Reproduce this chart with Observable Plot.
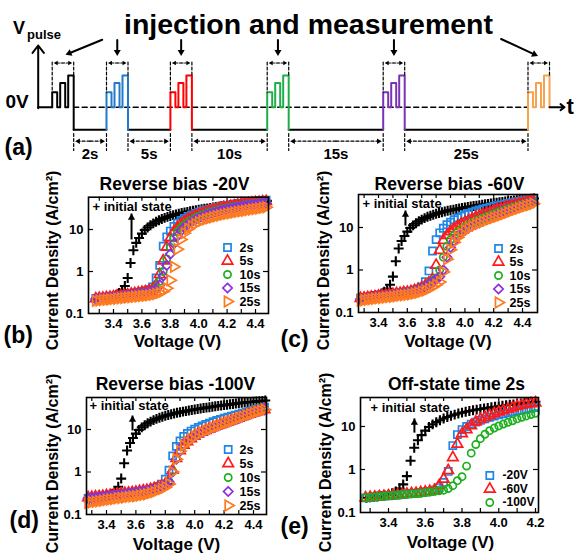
<!DOCTYPE html>
<html><head><meta charset="utf-8">
<script src="https://cdn.jsdelivr.net/npm/d3@7"></script>
<script src="https://cdn.jsdelivr.net/npm/@observablehq/plot@0.6"></script>
<style>
body{margin:0;background:#fff;}
#root{position:relative;width:579px;height:560px;overflow:hidden;background:#fff;}
#root svg{position:absolute;}
</style></head><body><div id="root"></div>
<script>
const SANS = "'Liberation Sans', Arial, Helvetica, sans-serif";
const BLUE = "#1e86e6", RED = "#ff1a1a", GREEN = "#1cb01c", PURPLE = "#8b2be2", ORANGE = "#ff7a1f";

// ---------- panel (a) schematic ----------
const offTimes = ["2s", "5s", "10s", "15s", "25s"];
const pulseColors = ["#000000", "#1f7acb", "#ff0000", "#1fae4a", "#7a33b4", "#f7a24e"];
const pulseGroupX = [51.7, 106, 169.9, 266.7, 382.7, 527.5];

// ---------- measured curves ----------
const voltageInit = [3.28,3.30,3.32,3.34,3.36,3.38,3.40,3.42,3.44,3.46,3.48,3.50,3.52,3.54,3.56,3.58,3.60,3.62,3.64,3.66,3.68,3.70,3.72,3.74,3.76,3.78,3.80,3.82,3.84,3.86,3.88,3.90,3.92,3.94,3.96,3.98,4.00,4.02,4.04,4.06,4.08,4.10,4.12,4.14,4.16,4.18,4.20,4.22,4.24,4.26,4.28,4.30,4.32,4.34,4.36,4.38,4.40,4.42,4.44,4.46,4.48];
const jInit = [0.22,0.225,0.23,0.235,0.24,0.25,0.26,0.28,0.31,0.36,
 0.45,0.70,1.6,3.2,4.8,6.3,8.0,9.7,11.2,12.6,
 14.0,15.3,16.6,17.8,18.9,20.0,21.0,22.0,22.9,23.8,
 24.7,25.5,26.3,27.1,27.9,28.7,29.5,30.3,31.1,31.9,
 32.7,33.5,34.3,35.1,35.9,36.7,37.5,38.3,39.1,39.9,
 40.7,41.5,42.3,43.0,43.7,44.4,45.1,45.8,46.5,47.2,48.0];

const voltage = [3.275,3.300,3.325,3.350,3.375,3.400,3.425,3.450,3.475,3.500,3.525,3.550,3.575,3.600,3.625,3.650,3.675,3.700,3.725,3.750,3.775,3.800,3.825,3.850,3.875,3.900,3.925,3.950,3.975,4.000,4.025,4.050,4.075,4.100,4.125,4.150,4.175,4.200,4.225,4.250,4.275,4.300,4.325,4.350,4.375,4.400,4.425,4.450,4.475];

// (b) reverse bias -20 V
const b2s = [0.23,0.235,0.24,0.245,0.25,0.26,0.265,0.27,0.28,0.29,
 0.30,0.31,0.32,0.33,0.35,0.37,0.43,0.70,1.4,4.0,
 6.7,9.2,11.8,14.2,16.4,18.5,20.5,22.4,24.2,26.0,
 27.6,29.2,30.7,32.1,33.5,34.8,36.1,37.4,38.6,39.8,
 41.0,42.2,43.3,44.4,45.5,46.6,47.7,48.8,49.9];
const b5s = [0.225,0.23,0.235,0.24,0.245,0.25,0.26,0.265,0.27,0.28,
 0.29,0.30,0.31,0.32,0.33,0.35,0.38,0.48,0.85,1.8,
 3.8,6.3,8.8,11.2,13.4,15.5,17.5,19.4,21.2,22.9,
 24.5,26.1,27.6,29.1,30.5,31.9,33.2,34.5,35.8,37.0,
 38.2,39.4,40.5,41.6,42.7,43.7,44.7,45.7,46.7];
const b10s = [0.22,0.225,0.23,0.235,0.24,0.245,0.25,0.26,0.265,0.27,
 0.28,0.29,0.30,0.31,0.32,0.33,0.35,0.41,0.58,1.0,
 2.0,3.8,6.3,8.8,11.0,13.0,15.0,16.9,18.7,20.4,
 22.0,23.6,25.1,26.6,28.0,29.4,30.8,32.1,33.4,34.7,
 35.9,37.1,38.3,39.4,40.5,41.6,42.7,43.8,44.9];
const b15s = [0.22,0.225,0.23,0.235,0.24,0.245,0.25,0.255,0.26,0.27,
 0.275,0.285,0.29,0.30,0.31,0.32,0.34,0.37,0.48,0.78,
 1.4,2.6,4.6,7.0,9.2,11.2,13.1,15.0,16.8,18.5,
 20.1,21.7,23.2,24.7,26.1,27.5,28.8,30.1,31.4,32.7,
 33.9,35.1,36.3,37.5,38.6,39.7,40.8,41.9,43.0];
const b25s = [0.20,0.205,0.21,0.213,0.216,0.22,0.225,0.23,0.235,0.24,
 0.245,0.25,0.255,0.26,0.265,0.27,0.28,0.29,0.31,0.34,
 0.40,0.62,1.3,3.4,5.8,8.2,10.3,12.1,13.6,15.0,
 16.3,17.5,18.6,19.6,20.6,21.6,22.6,23.6,24.5,25.4,
 26.3,27.2,28.1,29.0,29.9,30.8,31.8,32.8,34.0];

// (c) reverse bias -60 V
const c2s = [0.22,0.225,0.23,0.235,0.24,0.25,0.255,0.26,0.27,0.28,
 0.285,0.29,0.30,0.31,0.32,0.34,0.36,0.40,0.53,0.95,
 2.8,5.2,7.5,9.6,11.6,13.4,15.2,16.9,18.5,20.0,
 21.5,23.0,24.4,25.8,27.2,28.6,30.0,31.4,32.8,34.2,
 35.6,37.0,38.4,39.8,41.2,42.6,44.0,45.4,46.8];
const c5s = [0.215,0.22,0.225,0.23,0.235,0.245,0.25,0.255,0.265,0.27,
 0.28,0.285,0.295,0.30,0.31,0.33,0.35,0.38,0.43,0.5,
 0.6,1.3,2.9,5.0,6.5,8.0,9.4,10.7,12.0,13.3,
 14.6,15.9,17.3,18.7,20.1,21.6,23.1,24.7,26.3,27.9,
 29.5,31.1,32.7,34.3,35.9,37.5,39.1,40.7,42.3];
const c10s = [0.21,0.215,0.22,0.225,0.23,0.24,0.245,0.25,0.26,0.265,
 0.27,0.28,0.29,0.30,0.31,0.32,0.34,0.37,0.41,0.47,
 0.55,0.65,1.0,2.0,3.6,5.2,6.6,7.9,9.1,10.3,
 11.5,12.7,13.9,15.2,16.5,17.9,19.3,20.8,22.3,23.8,
 25.3,27.2,29.0,30.8,32.6,34.4,36.2,38.0,39.8];
const c15s = [0.205,0.21,0.215,0.22,0.225,0.235,0.24,0.245,0.25,0.26,
 0.265,0.27,0.28,0.29,0.30,0.31,0.33,0.36,0.40,0.45,
 0.52,0.6,0.7,1.0,2.0,3.4,4.8,6.1,7.3,8.5,
 9.6,10.7,11.8,12.9,14.1,15.4,16.7,18.1,19.5,21.0,
 22.5,24.3,26.0,27.8,29.7,31.7,33.7,35.8,37.9];
const c25s = [0.19,0.195,0.20,0.205,0.21,0.215,0.22,0.225,0.23,0.235,
 0.24,0.25,0.255,0.26,0.27,0.28,0.29,0.31,0.33,0.36,
 0.40,0.45,0.52,0.9,1.8,3.0,4.5,5.9,7.2,8.5,
 9.6,10.6,11.6,12.6,13.6,14.7,15.8,16.9,18.0,19.3,
 20.8,22.5,24.2,26.0,27.9,29.8,31.8,33.9,36.0];

// (d) reverse bias -100 V
const d2s = [0.24,0.245,0.25,0.255,0.26,0.27,0.275,0.28,0.29,0.30,
 0.31,0.315,0.32,0.33,0.34,0.35,0.37,0.39,0.42,0.46,
 0.52,0.68,1.1,2.4,4.0,5.4,6.9,8.1,9.2,10.2,
 11.2,12.2,13.2,14.2,15.2,16.3,17.4,18.5,19.6,20.7,
 21.9,23.1,24.4,25.7,27.1,28.6,30.2,31.9,33.6];
const d5s = [0.25,0.255,0.26,0.265,0.27,0.28,0.285,0.29,0.30,0.31,
 0.315,0.32,0.33,0.34,0.35,0.36,0.37,0.39,0.41,0.44,
 0.47,0.52,0.62,1.1,2.1,3.2,4.3,5.2,6.1,7.0,
 7.9,8.7,9.5,10.3,11.2,12.1,13.0,14.0,15.0,16.1,
 17.2,18.5,20.0,21.5,23.1,24.7,26.3,27.9,29.4];
const d10s = [0.245,0.25,0.255,0.26,0.265,0.275,0.28,0.285,0.295,0.30,
 0.31,0.315,0.325,0.335,0.345,0.355,0.365,0.38,0.40,0.43,
 0.46,0.51,0.6,1.05,2.05,3.15,4.25,5.15,6.05,6.95,
 7.8,8.6,9.4,10.2,11.1,12.0,12.9,13.9,14.9,16.0,
 17.1,18.4,19.9,21.4,23.0,24.6,26.2,27.8,29.2];
const d15s = [0.24,0.245,0.25,0.255,0.26,0.27,0.275,0.28,0.29,0.295,
 0.30,0.31,0.32,0.33,0.34,0.35,0.36,0.375,0.395,0.42,
 0.45,0.50,0.58,1.0,2.0,3.1,4.2,5.1,6.0,6.9,
 7.75,8.55,9.35,10.15,11.05,11.95,12.85,13.85,14.85,15.95,
 17.05,18.35,19.85,21.35,22.95,24.55,26.15,27.7,29.1];
const d25s = [0.19,0.195,0.20,0.205,0.21,0.22,0.225,0.23,0.24,0.245,
 0.25,0.26,0.265,0.27,0.28,0.29,0.30,0.32,0.34,0.37,
 0.40,0.44,0.52,1.0,2.0,3.1,4.2,5.1,6.0,6.9,
 7.7,8.5,9.3,10.1,11.0,11.9,12.8,13.8,14.8,15.9,
 17.0,18.3,19.8,21.3,22.9,24.5,26.1,27.6,29.0];

// (e) off-state time 2 s (voltage grid up to 4.20 V)
const e20V = [0.22,0.225,0.23,0.235,0.24,0.245,0.25,0.255,0.26,0.27,
 0.275,0.28,0.29,0.30,0.31,0.33,0.38,0.50,0.9,3.6,
 6.5,8.5,10.0,11.4,12.7,13.9,15.1,16.3,17.5,18.6,
 19.7,20.8,21.9,23.0,24.1,25.2,26.3,27.4];
const e60V = [0.22,0.225,0.23,0.235,0.24,0.245,0.25,0.255,0.26,0.27,
 0.275,0.28,0.29,0.30,0.31,0.33,0.42,0.6,0.95,1.9,
 3.9,6.8,8.5,10.5,12.8,14.6,16.4,18.2,20.0,21.8,
 23.5,25.2,27.2,29.4,31.2,32.8,34.2,35.5];
const e100V = [0.22,0.225,0.23,0.235,0.24,0.245,0.25,0.255,0.26,0.265,
 0.27,0.275,0.28,0.29,0.30,0.31,0.32,0.33,0.36,0.42,
 0.55,0.68,1.2,2.4,3.8,5.2,6.6,8.0,9.2,10.3,
 11.4,12.5,13.6,15.0,16.3,17.6,18.9,20.2];

const offLabels = ["2s", "5s", "10s", "15s", "25s"];
const biasLabels = ["-20V", "-60V", "-100V"];
const xTicksMain = [3.4, 3.6, 3.8, 4.0, 4.2, 4.4];
const xTicksE = [3.4, 3.6, 3.8, 4.0, 4.2];
const xMinorMain = [3.3,3.4,3.5,3.6,3.7,3.8,3.9,4.0,4.1,4.2,4.3,4.4];
const xMinorE = [3.3,3.4,3.5,3.6,3.7,3.8,3.9,4.0,4.1,4.2];
const yTicks = [0.1, 1, 10];

// ---------- helpers ----------
const root = document.getElementById("root");
const zip = (vs, js) => vs.map((v, i) => ({V: v, J: js[i]})).filter(d => d.J != null);
const STY = {
  init: {symbol: "plus", r: 3.3, color: "#000", sw: 2.1},
  s0: {symbol: "square", r: 4.0, color: BLUE, sw: 1.7},
  s1: {symbol: "triangle", r: 3.9, color: RED, sw: 1.7},
  s2: {symbol: "circle", r: 3.6, color: GREEN, sw: 1.7},
  s3: {symbol: "diamond2", r: 4.2, color: PURPLE, sw: 1.7},
  s4: {symbol: "triangle", r: 3.9, color: ORANGE, sw: 1.7, rotate: 90}
};

function place(svg, x, y) {
  svg.style.left = x + "px"; svg.style.top = y + "px";
  root.appendChild(svg);
}

function scatterPanel(P) {
  const {box, frame: F} = P;
  const iw = F.R - F.L, ih = F.B - F.T;
  const at = (px, py) => ({frameAnchor: "top-left", dx: px - F.L, dy: py - F.T});
  const txt = (s, px, py, o = {}) => Plot.text([s], {text: d => d, ...at(px, py), fontWeight: "bold", fill: "black", fontFamily: SANS, ...o});
  const dotOpts = (st) => ({symbol: st.symbol, r: st.r, rotate: st.rotate || 0, stroke: st.color, fill: "none", strokeWidth: st.sw});
  const marks = [];
  marks.push(Plot.ruleX(P.xMinor, {x: d => d, insetTop: ih - 4, stroke: "black", strokeWidth: 1.2}));
  marks.push(Plot.ruleX(P.xMinor, {x: d => d, insetBottom: ih - 4, stroke: "black", strokeWidth: 1.2}));
  marks.push(Plot.ruleY([1, 10], {y: d => d, insetRight: iw - 5, stroke: "black", strokeWidth: 1.2}));
  marks.push(Plot.ruleY([1, 10], {y: d => d, insetLeft: iw - 5, stroke: "black", strokeWidth: 1.2}));
  for (const s of P.series) marks.push(Plot.dot(s.data, {x: "V", y: "J", ...dotOpts(s.st)}));
  marks.push(Plot.frame({stroke: "black", strokeWidth: 1.6}));
  marks.push(Plot.axisX(P.xTicks, {tickSize: 0, tickPadding: 5, tickFormat: d3.format(".1f"), fontSize: 13, fontWeight: "bold", fontFamily: SANS, label: null}));
  marks.push(Plot.axisY(yTicks, {tickSize: 0, tickPadding: 5, tickFormat: d3.format("~g"), fontSize: 13, fontWeight: "bold", fontFamily: SANS, label: null}));
  // legend
  P.series.filter(s => s.label).forEach((s, i) => {
    const yy = P.legend.rows[i];
    marks.push(Plot.dot([0], {...at(P.legend.mx, yy), ...dotOpts(s.st)}));
    marks.push(txt(s.label, P.legend.tx, yy, {textAnchor: "start", lineAnchor: "middle", fontSize: P.legend.fs}));
  });
  // annotation arrow (initial state)
  const A = P.arrow, hr = 2.7;
  const half = Math.sqrt(Math.PI * hr * hr / (3 * Math.sqrt(3)));
  marks.push(Plot.link([0], {x1: () => A.V, y1: () => A.J1, x2: () => A.V, y2: () => A.J2, stroke: "black", strokeWidth: 2}));
  marks.push(Plot.dot([0], {x: () => A.V, y: () => A.J2, dy: 2 * half, symbol: "triangle", r: hr, fill: "black", stroke: "none"}));
  // texts
  const t = P.texts;
  marks.push(txt("+ initial state", t.init[0], t.init[1], {textAnchor: "start", lineAnchor: "middle", fontSize: 13}));
  marks.push(txt(P.title, t.title[0], t.title[1], {textAnchor: "middle", lineAnchor: "bottom", fontSize: 17.5}));
  marks.push(txt("Current Density (A/cm²)", t.ylab[0], t.ylab[1], {textAnchor: "middle", lineAnchor: "middle", rotate: -90, fontSize: 16}));
  marks.push(txt("Voltage (V)", t.xlab[0], t.xlab[1], {textAnchor: "middle", lineAnchor: "bottom", fontSize: 17}));
  marks.push(txt(P.letter, t.letter[0], t.letter[1], {textAnchor: "start", lineAnchor: "bottom", fontSize: 23}));

  const svg = Plot.plot({
    width: box.w, height: box.h,
    marginLeft: F.L - box.x, marginRight: box.x + box.w - F.R,
    marginTop: F.T - box.y, marginBottom: box.y + box.h - F.B,
    x: {domain: P.xDomain},
    y: {type: "log", domain: [0.1, P.yTop]},
    style: {background: "transparent", overflow: "visible", fontFamily: SANS},
    marks
  });
  place(svg, box.x, box.y);
}

function measSeries(arrs) {
  return [{st: STY.init, data: zip(voltageInit, jInit)}].concat(
    arrs.map((a, i) => ({st: STY["s" + i], data: zip(voltage, a), label: offLabels[i]})));
}

// ---------- panel (a) ----------
(function () {
  const Z = 106.7, LOW = 129.3, TOPS = [91.7, 82.5, 75], ON = [0, 8, 16], OFF = [5, 13, 21.5], GW = 21.5;
  const gx = pulseGroupX;
  const XY = {x: d => d[0], y: d => d[1]};
  const marks = [];
  const line = (pts, o) => Plot.line(pts, {...XY, stroke: "black", strokeWidth: 2, ...o});
  const txt = (s, x, y, o = {}) => Plot.text([s], {text: d => d, x: () => x, y: () => y, fontWeight: "bold", fill: "black", fontFamily: SANS, lineAnchor: "bottom", ...o});
  function headArrow(x1, y1, x2, y2, o = {}) {
    const r = o.r || 2.6, w = o.w || 2, col = o.color || "black";
    const L = Math.hypot(x2 - x1, y2 - y1), ux = (x2 - x1) / L, uy = (y2 - y1) / L;
    const half = Math.sqrt(Math.PI * r * r / (3 * Math.sqrt(3)));
    const cx = x2 - ux * 2 * half, cy = y2 - uy * 2 * half;
    const ang = Math.atan2(ux, -uy) * 180 / Math.PI;
    return [
      line([[x1, y1], [cx, cy]], {strokeWidth: w, stroke: col, strokeDasharray: o.dash}),
      Plot.dot([[cx, cy]], {...XY, symbol: "triangle", r, rotate: ang, fill: col, stroke: "none"})
    ];
  }
  function groupPts(x0, from, to) {
    return [[x0, from], [x0, TOPS[0]], [x0 + OFF[0], TOPS[0]], [x0 + OFF[0], Z],
      [x0 + ON[1], Z], [x0 + ON[1], TOPS[1]], [x0 + OFF[1], TOPS[1]], [x0 + OFF[1], Z],
      [x0 + ON[2], Z], [x0 + ON[2], TOPS[2]], [x0 + OFF[2], TOPS[2]], [x0 + OFF[2], to]];
  }
  // dashed 0 V reference
  marks.push(line([[gx[0] + GW, Z], [gx[5], Z]], {strokeWidth: 1.5, strokeDasharray: "5,3.5"}));
  // vertical axis
  marks.push(Plot.arrow([0], {x1: () => 37.7, y1: () => Z + 1, x2: () => 37.7, y2: () => 45, stroke: "black", strokeWidth: 2, headLength: 7, headAngle: 75}));
  marks.push(line([[37.7, Z], [gx[0], Z]]));
  for (let i = 0; i < 5; i++) marks.push(line([[gx[i] + GW, LOW], [gx[i + 1], LOW]]));
  gx.forEach((x0, i) => marks.push(line(groupPts(x0, i === 0 ? Z : LOW, i === 5 ? Z : LOW), {stroke: pulseColors[i]})));
  // time axis arrow
  marks.push(Plot.arrow([0], {x1: () => gx[5] + GW, y1: () => Z, x2: () => 564, y2: () => Z, stroke: "black", strokeWidth: 2, headLength: 7, headAngle: 75}));
  // dashed boxes above each injection
  gx.forEach((x0) => {
    marks.push(line([[x0, 61.5], [x0, TOPS[0]]], {strokeWidth: 1.2, strokeDasharray: "3,2"}));
    marks.push(line([[x0 + GW, 61.5], [x0 + GW, TOPS[2]]], {strokeWidth: 1.2, strokeDasharray: "3,2"}));
    const cx = x0 + GW / 2;
    marks.push(...headArrow(cx, 62.5, x0 + 1.5, 62.5, {r: 1.7, w: 1.1, dash: "2,1.5"}));
    marks.push(...headArrow(cx, 62.5, x0 + GW - 1.5, 62.5, {r: 1.7, w: 1.1, dash: "2,1.5"}));
  });
  // off-time intervals
  offTimes.forEach((lab, i) => {
    const l = gx[i] + GW, r = gx[i + 1], c = (l + r) / 2;
    marks.push(line([[l, 133], [l, 150]], {strokeWidth: 1.2, strokeDasharray: "3,2"}));
    marks.push(line([[r, 133], [r, 150]], {strokeWidth: 1.2, strokeDasharray: "3,2"}));
    marks.push(...headArrow(c, 140.7, l + 1.5, 140.7, {r: 2, w: 1.2, dash: "3,2"}));
    marks.push(...headArrow(c, 140.7, r - 1.5, 140.7, {r: 2, w: 1.2, dash: "3,2"}));
    marks.push(txt(lab, c, 158, {fontSize: 15, textAnchor: "middle"}));
  });
  // pointer arrows from the title
  marks.push(...headArrow(101.7, 39.3, 65, 54.3));
  gx.slice(1, 5).forEach(x0 => marks.push(...headArrow(x0 + GW / 2, 39.5, x0 + GW / 2, 55.5)));
  marks.push(...headArrow(500.6, 38.5, 537.5, 55.5));
  // texts
  marks.push(txt("injection and measurement", 308, 33, {fontSize: 28.5, textAnchor: "middle"}));
  marks.push(txt("V", 12.5, 33.5, {fontSize: 18, textAnchor: "start"}));
  marks.push(txt("pulse", 26.5, 38.5, {fontSize: 13, textAnchor: "start"}));
  marks.push(txt("0V", 5, 107.5, {fontSize: 19, textAnchor: "start"}));
  marks.push(txt("t", 566, 113, {fontSize: 22, textAnchor: "start"}));
  marks.push(txt("(a)", 4, 154, {fontSize: 23, textAnchor: "start"}));

  const svg = Plot.plot({
    width: 579, height: 165, margin: 0,
    x: {domain: [0, 579], range: [0, 579], axis: null},
    y: {domain: [0, 165], range: [0, 165], axis: null},
    style: {background: "transparent", overflow: "visible", fontFamily: SANS},
    marks
  });
  place(svg, 0, 0);
})();

// ---------- panels (b)-(e) ----------
scatterPanel({
  box: {x: 0, y: 165, w: 278, h: 195}, frame: {L: 88, T: 196.7, R: 268, B: 313},
  xDomain: [3.224, 4.4915], yTop: 58.8, xTicks: xTicksMain, xMinor: xMinorMain,
  series: measSeries([b2s, b5s, b10s, b15s, b25s]),
  legend: {mx: 227, tx: 239, rows: [247, 260.5, 274, 287.5, 301], fs: 12.5},
  arrow: {V: 3.527, J1: 5.8, J2: 24},
  title: "Reverse bias -20V", letter: "(b)",
  texts: {init: [92, 206], title: [174, 189], ylab: [52, 260], xlab: [177, 346], letter: [3, 342]}
});
scatterPanel({
  box: {x: 278, y: 165, w: 301, h: 195}, frame: {L: 358, T: 194, R: 537, B: 312},
  xDomain: [3.261, 4.504], yTop: 59.7, xTicks: xTicksMain, xMinor: xMinorMain,
  series: measSeries([c2s, c5s, c10s, c15s, c25s]),
  legend: {mx: 498, tx: 509, rows: [248, 261.5, 275, 288.5, 302], fs: 12.5},
  arrow: {V: 3.587, J1: 11.1, J2: 25.1},
  title: "Reverse bias -60V", letter: "(c)",
  texts: {init: [362, 203], title: [449, 189], ylab: [323, 260], xlab: [447.5, 346], letter: [280, 346]}
});
scatterPanel({
  box: {x: 0, y: 360, w: 278, h: 200}, frame: {L: 86, T: 397, R: 266, B: 514},
  xDomain: [3.264, 4.4884], yTop: 56.6, xTicks: xTicksMain, xMinor: xMinorMain,
  series: measSeries([d2s, d5s, d10s, d15s, d25s]),
  legend: {mx: 227.7, tx: 239, rows: [449, 463, 477, 491, 505], fs: 12.5},
  arrow: {V: 3.577, J1: 9.5, J2: 21.3},
  title: "Reverse bias -100V", letter: "(d)",
  texts: {init: [89, 405], title: [175, 389], ylab: [52, 463], xlab: [176, 549], letter: [9, 527]}
});
scatterPanel({
  box: {x: 278, y: 360, w: 301, h: 200}, frame: {L: 360, T: 397, R: 538, B: 512},
  xDomain: [3.2476, 4.2163], yTop: 47.2, xTicks: xTicksE, xMinor: xMinorE,
  series: [
    {st: STY.init, data: zip(voltageInit, jInit).filter(d => d.V <= 4.205)},
    {st: STY.s0, data: zip(voltage.slice(0, 38), e20V), label: biasLabels[0]},
    {st: STY.s1, data: zip(voltage.slice(0, 38), e60V), label: biasLabels[1]},
    {st: STY.s2, data: zip(voltage.slice(0, 38), e100V), label: biasLabels[2]}
  ],
  legend: {mx: 489.3, tx: 502, rows: [475, 488.5, 502], fs: 12},
  arrow: {V: 3.541, J1: 7.2, J2: 15.4},
  title: "Off-state time 2s", letter: "(e)",
  texts: {init: [370, 407], title: [456, 389], ylab: [325, 462], xlab: [450, 547], letter: [280, 533]}
});
</script></body></html>
